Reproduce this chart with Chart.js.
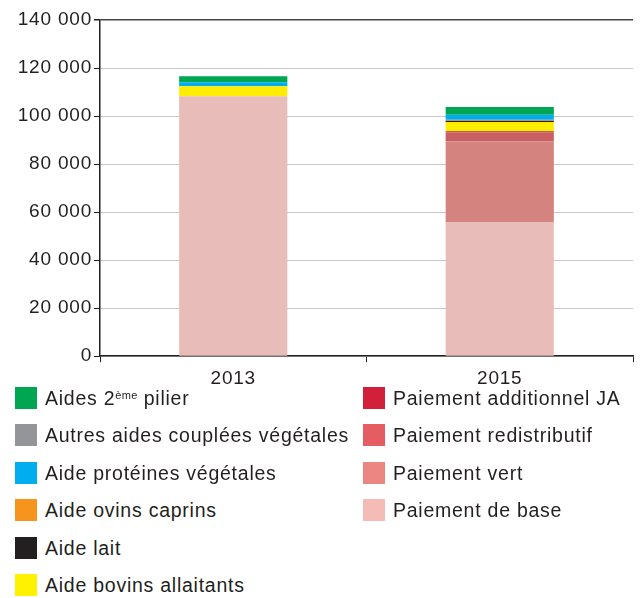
<!DOCTYPE html>
<html><head><meta charset="utf-8">
<script src="https://cdn.jsdelivr.net/npm/chart.js@4/dist/chart.umd.min.js"></script>
<style>
html,body{margin:0;padding:0;background:#fff;}
#wrap{position:relative;width:640px;height:395px;}
#legend{position:absolute;left:0;top:387px;width:640px;font-family:"Liberation Sans",Arial,sans-serif;font-size:19.5px;letter-spacing:0.75px;color:#231f20;}
.item{position:absolute;height:22px;line-height:22px;white-space:nowrap;}
.sw{position:absolute;left:0;top:0;width:22px;height:22px;}
.lb{position:absolute;left:30px;top:0;}
sup{font-size:11px;letter-spacing:0.3px;vertical-align:top;position:relative;top:-3px;}
</style></head>
<body>
<div id="wrap"><canvas id="c" width="640" height="395"></canvas></div>
<div id="legend"></div>
<script>
const categories = ["2013", "2015"];
const seriesNames = ["Paiement de base","Paiement vert","Paiement redistributif","Paiement additionnel JA","Aide bovins allaitants","Aide lait","Aide ovins caprins","Autres aides couplées végétales","Aide protéines végétales","Aides 2ème pilier"];
const paiementBase = [108200, 55700];
const paiementVert = [0, 33800];
const paiementRedistributif = [0, 3800];
const paiementJA = [0, 400];
const aideBovins = [4200, 3800];
const aideLait = [0, 500];
const aideOvins = [0, 300];
const autresVegetales = [0, 200];
const aideProteines = [1700, 2000];
const aides2ePilier = [2500, 3300];
const yTicks = [0, 20000, 40000, 60000, 80000, 100000, 120000, 140000];
const barColors = ["#e8bcb8","#d4837f","#c95f62","#c0262f","#ffed00","#231f20","#f7941d","#939598","#00aeef","#00a651"];
const legendColors = ["#f5bbb6","#ec8682","#e35d62","#d2203b","#fff200","#231f20","#f7941d","#939598","#00aeef","#00a651"];
const legendOrder = [9,7,8,6,5,4,3,2,1,0];

const values = [paiementBase,paiementVert,paiementRedistributif,paiementJA,aideBovins,aideLait,aideOvins,autresVegetales,aideProteines,aides2ePilier];
const datasets = values.map((v,i)=>({label:seriesNames[i],data:v,backgroundColor:barColors[i],borderWidth:0,categoryPercentage:1,barPercentage:0.406}));

const spacingPlugin = {
  id:'spacing',
  beforeInit(chart){ chart.ctx.letterSpacing='0.8px'; },
  beforeLayout(chart){ chart.ctx.letterSpacing='0.8px'; },
  beforeDraw(chart){ chart.ctx.letterSpacing='0.8px'; }
};

const font = {family:"'Liberation Sans', Arial, sans-serif", size:19};
new Chart(document.getElementById('c'), {
  type:'bar',
  data:{labels:categories,datasets},
  plugins:[spacingPlugin],
  options:{
    responsive:false,animation:false,
    layout:{padding:{top:20,right:7,left:0,bottom:0}},
    plugins:{legend:{display:false},tooltip:{enabled:false}},
    scales:{
      x:{stacked:true,
        grid:{offset:true,drawOnChartArea:true,tickLength:6,
          color:(ctx)=> ctx.index===2 ? '#444':'rgba(0,0,0,0)',
          tickColor:'#231f20'},
        border:{color:'#231f20',width:1.5},
        ticks:{font,color:'#231f20',padding:5}},
      y:{stacked:true,min:0,max:140000,
        afterFit:(s)=>{s.width=100;},
        afterBuildTicks:(s)=>{s.ticks=yTicks.map(v=>({value:v}));},
        grid:{tickLength:6,color:(ctx)=> ctx.tick && ctx.tick.value===140000 ? '#444':'#c8c8c8',lineWidth:(ctx)=> ctx.tick && ctx.tick.value===140000 ? 1.5:1,tickColor:'#231f20'},
        border:{color:'#231f20',width:1.5},
        ticks:{font,color:'#231f20',padding:2,callback:(v)=>String(v).replace(/\B(?=(\d{3})+(?!\d))/g,' ')}}
    }
  }
});

// legend
const leg = document.getElementById('legend');
legendOrder.forEach((idx,k)=>{
  const col = k<6?0:1, row = k<6?k:k-6;
  const d = document.createElement('div');
  d.className='item';
  d.style.left = (col===0?15:363)+'px';
  d.style.top = (row*37.4)+'px';
  const name = seriesNames[idx];
  const html = name==="Aides 2ème pilier" ? 'Aides 2<sup>ème</sup> pilier' : name;
  d.innerHTML = '<div class="sw" style="background:'+legendColors[idx]+'"></div><div class="lb">'+html+'</div>';
  leg.appendChild(d);
});
</script>
</body></html>
